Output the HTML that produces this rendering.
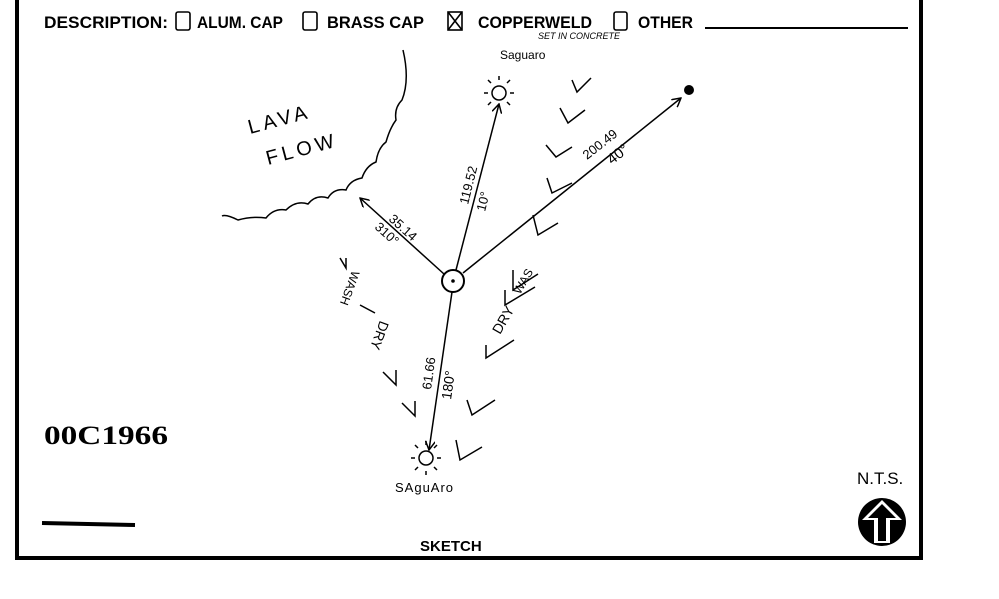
<!DOCTYPE html>
<html><head><style>
body{margin:0;background:#fff;width:999px;height:599px;overflow:hidden}
svg{display:block}
text{font-family:"Liberation Sans",sans-serif;fill:#000}
</style></head><body>
<svg width="999" height="599" viewBox="0 0 999 599">
<defs><marker id="a" markerWidth="10" markerHeight="10" refX="9" refY="5" orient="auto" markerUnits="userSpaceOnUse"><path d="M0,0 L9,5 L0,10" fill="none" stroke="#000" stroke-width="1.5"/></marker></defs>
<rect x="17" y="-2" width="904" height="560" fill="none" stroke="#000" stroke-width="4"/>
<g font-size="17" font-weight="bold">
<text x="44" y="28" textLength="124" lengthAdjust="spacingAndGlyphs">DESCRIPTION:</text>
<text x="197" y="28" textLength="86" lengthAdjust="spacingAndGlyphs">ALUM. CAP</text>
<text x="327" y="28" textLength="97" lengthAdjust="spacingAndGlyphs">BRASS CAP</text>
<text x="478" y="28" textLength="114" lengthAdjust="spacingAndGlyphs">COPPERWELD</text>
<text x="638" y="28" textLength="55" lengthAdjust="spacingAndGlyphs">OTHER</text>
</g>
<g fill="none" stroke="#000" stroke-width="1.6">
<rect x="176" y="12" width="14" height="18" rx="2"/>
<rect x="303" y="12" width="14" height="18" rx="2"/>
<rect x="448" y="12" width="14" height="18"/><path d="M448,12 L462,30 M462,12 L448,30"/>
<rect x="614" y="12" width="13" height="18" rx="2"/>
</g>
<line x1="705" y1="28" x2="908" y2="28" stroke="#000" stroke-width="2"/>
<text x="538" y="39" font-size="9" font-style="italic">SET  IN CONCRETE</text>
<text x="500" y="59" font-size="12">Saguaro</text>
<path d="M403,50 Q410,80 402,100 q-8,8 -6,20 q-6,8 -10,22 q-8,6 -10,20 q-10,4 -14,16 q-12,2 -16,12 q-12,-2 -18,8 q-12,-4 -20,6 q-12,-4 -22,6 q-12,-2 -20,8 q-14,-2 -28,2 q-12,-6 -16,-4" fill="none" stroke="#000" stroke-width="1.5"/>
<text x="250" y="134" font-size="20" transform="rotate(-15 250 134)" style="letter-spacing:4px">LAVA</text>
<text x="268" y="165" font-size="20" transform="rotate(-15 268 165)" style="letter-spacing:4px">FLOW</text>
<circle cx="453" cy="281" r="11" fill="none" stroke="#000" stroke-width="2"/>
<circle cx="453" cy="281" r="1.8" fill="#000"/>
<g stroke="#000" stroke-width="1.5" fill="none">
<line x1="456" y1="270" x2="499" y2="104" marker-end="url(#a)"/>
<line x1="463" y1="273" x2="681" y2="98" marker-end="url(#a)"/>
<line x1="444" y1="274" x2="360" y2="198" marker-end="url(#a)"/>
<line x1="452" y1="292" x2="429" y2="450" marker-end="url(#a)"/>
</g>
<circle cx="689" cy="90" r="5" fill="#000"/>
<g stroke="#000" stroke-width="1.5" fill="none">
<circle cx="499" cy="93" r="7"/>
<path d="M499,80v-4 M491,83l-3,-3 M507,83l3,-3 M488,93h-4 M510,93h4 M491,102l-3,3 M507,102l3,3"/>
<circle cx="426" cy="458" r="7"/>
<path d="M426,445v-4 M418,448l-3,-3 M434,448l3,-3 M415,458h-4 M437,458h4 M418,467l-3,3 M434,467l3,3 M426,471v4"/>
</g>
<text x="395" y="492" font-size="13" style="letter-spacing:1px">SAguAro</text>
<text font-size="13" transform="translate(468,205) rotate(-76)">119.52</text>
<text font-size="13" transform="translate(485,212) rotate(-76)">10°</text>
<text font-size="13" transform="translate(587,160) rotate(-38)">200.49</text>
<text font-size="15" transform="translate(612,165) rotate(-38)">40°</text>
<text font-size="13" transform="translate(388,220) rotate(42)">35.14</text>
<text font-size="13" transform="translate(374,228) rotate(42)">310°</text>
<text font-size="13" transform="translate(431,390) rotate(-82)">61.66</text>
<text font-size="14" transform="translate(451,400) rotate(-82)">180°</text>
<text font-size="14" transform="translate(500,335) rotate(-60)">DRY</text>
<text font-size="12" transform="translate(520,295) rotate(-60)">WAS</text>
<text font-size="14" transform="translate(380,320) rotate(110)">DRY</text>
<text font-size="12" transform="translate(352,270) rotate(110)">WASH</text>
<g stroke="#000" stroke-width="1.5" fill="none">
<path d="M572,80 l5,12 l14,-14"/><path d="M560,108 l8,15 l17,-13"/>
<path d="M546,145 l10,12 l16,-10"/><path d="M547,178 l5,15 l20,-10"/>
<path d="M533,215 l5,20 l20,-12"/><path d="M513,270 l0,20 l25,-16"/>
<path d="M505,290 l0,15 l30,-18"/><path d="M486,345 l0,13 l28,-18"/>
<path d="M467,400 l5,15 l23,-15"/><path d="M456,440 l4,20 l22,-13"/>
<path d="M402,403 l13,13 l0,-15"/><path d="M383,372 l13,13 l0,-15"/>
<path d="M360,305 l15,8"/><path d="M340,258 l6,10 l0,-10"/>
</g>
<text x="44" y="444" font-size="26" font-weight="bold" style="font-family:'Liberation Serif',serif" textLength="124" lengthAdjust="spacingAndGlyphs">00C1966</text>
<line x1="42" y1="523" x2="135" y2="525" stroke="#000" stroke-width="4"/>
<text x="420" y="551" font-size="15" font-weight="bold">SKETCH</text>
<text x="857" y="484" font-size="17">N.T.S.</text>
<circle cx="882" cy="522" r="24" fill="#000"/>
<path d="M882,500 L902,520 L890,520 L890,543 L874,543 L874,520 L862,520 Z" fill="#fff"/>
<path d="M882,504 L896,518 L886,518 L886,541 L878,541 L878,518 L868,518 Z" fill="#000"/>
</svg>
</body></html>
